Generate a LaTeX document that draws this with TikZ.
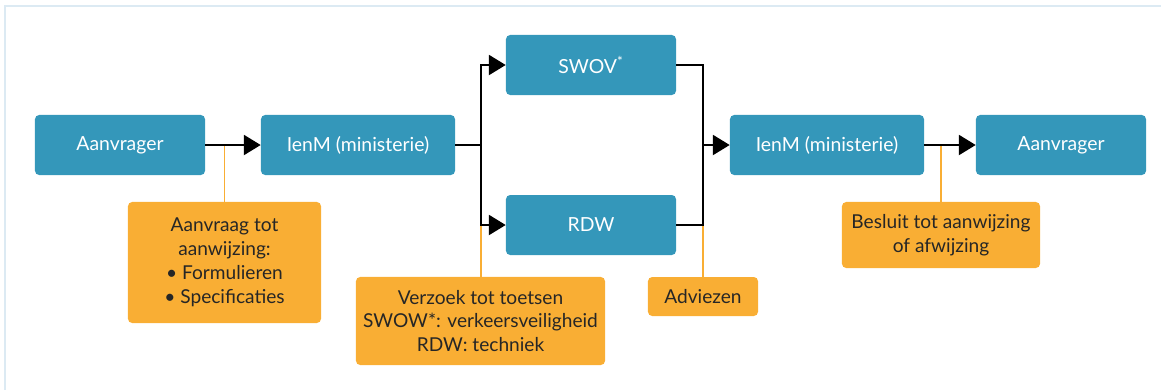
\documentclass[tikz,border=0pt]{standalone}
\usepackage{fontspec}
\setmainfont{Lato}
\usepackage{xcolor}
\usepackage{tikz}
\usetikzlibrary{positioning}
\usetikzlibrary{arrows.meta}

\definecolor{boxblue}{RGB}{52,151,186}
\definecolor{boxorange}{RGB}{249,174,52}
\definecolor{framecol}{RGB}{220,234,243}

\begin{document}
\begin{tikzpicture} [
    x=0.025cm, y=-0.025cm,          % one unit is one pixel of the layout
    ]
% -------------------------------------------------
\tikzset{
  base/.style={rectangle, rounded corners=3pt, inner sep=0pt, align=center},
  proc/.style={base, fill=boxblue, text=white, minimum height=1.5cm, font=\fontsize{13.8}{16}\selectfont},
  note/.style={base, fill=boxorange, text=black!85, font=\fontsize{13.6}{17}\selectfont},
  line/.style={draw, line width=1.4pt},
  arrow/.style={line, -{Triangle[length=0.42cm, width=0.5cm]}},
  tie/.style={draw, boxorange, line width=1.3pt}
}

    \useasboundingbox (0,0) rectangle (1161,390);
    \draw[framecol, line width=1.2pt] (5,390) -- (5,6) -- (1161,6);     % frame: left and top edge

    \node [proc, minimum width=4.25cm] (aan1)  at (120,145) {Aanvrager};
    \node [proc, minimum width=4.85cm] (ienm1) at (358,145) {IenM (ministerie)};
    \node [proc, minimum width=4.25cm] (swov)  at (591,65)  {SWOV\textsuperscript{*}};
    \node [proc, minimum width=4.25cm] (rdw)   at (591,225) {RDW};
    \node [proc, minimum width=4.85cm] (ienm2) at (827,145) {IenM (ministerie)};
    \node [proc, minimum width=4.25cm] (aan2)  at (1061,145) {Aanvrager};

    \coordinate (split) at (481,145);
    \coordinate (merge) at (703,145);

    \node [note, minimum width=4.825cm, minimum height=3.025cm] (aanv) at (224.5,262.5)
        {Aanvraag tot\\aanwijzing:\\\textbullet\ Formulieren\\\textbullet\ Specificaties};
    \node [note, minimum width=6.225cm, minimum height=2.2cm] (verz) at (480.5,321)
        {Verzoek tot toetsen\\SWOW*: verkeersveiligheid\\RDW: techniek};
    \node [note, minimum width=2.75cm, minimum height=0.975cm] (adv) at (703,296.5) {Adviezen};
    \node [note, minimum width=4.95cm, minimum height=1.65cm] (bes) at (941,235)
        {Besluit tot aanwijzing\\of afwijzing};

    \path [tie] (aanv.north) -- (aanv.north |- aan1);                  % note on first request
    \path [tie] (split |- verz.north) -- (split |- rdw);               % note on the test request
    \path [tie] (merge |- adv.north) -- (merge |- rdw);                % note on the advice
    \path [tie] (bes.north) -- (bes.north |- ienm2);                   % note on the decision

    \path [arrow] (aan1) -- (ienm1);
    \path [line] (ienm1) -- (split);
    \path [arrow] (split) |- (swov);
    \path [arrow] (split) |- (rdw);
    \path [line] (swov) -| (merge);
    \path [line] (rdw) -| (merge);
    \path [arrow] (merge) -- (ienm2);
    \path [arrow] (ienm2) -- (aan2);

\end{tikzpicture}
\end{document}
